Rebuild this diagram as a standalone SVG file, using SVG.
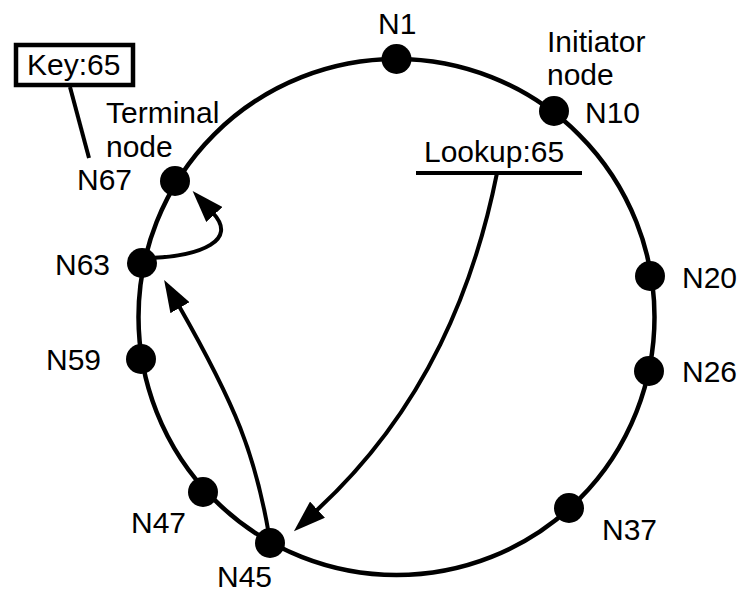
<svg xmlns="http://www.w3.org/2000/svg" width="739" height="596" viewBox="0 0 739 596">
  <style>
    .lbl { font-family: "Liberation Sans", Arial, sans-serif; font-size: 30px; fill: #000; }
    .ring { fill: none; stroke: #000; stroke-width: 4.5; }
    .node { fill: #000; }
    .link { fill: none; stroke: #000; stroke-width: 4; }
  </style>
  <defs>
    <marker id="arrow" markerUnits="userSpaceOnUse" markerWidth="32" markerHeight="22" refX="2" refY="11" orient="auto">
      <path d="M0,0 L32,11 L0,22 z" fill="#000"/>
    </marker>
  </defs>

  <rect width="739" height="596" fill="#fff"/>

  <!-- identifier ring -->
  <circle class="ring" cx="396.5" cy="317" r="258"/>

  <!-- key annotation -->
  <g id="key">
    <rect x="16" y="45" width="117" height="40" fill="#fff" stroke="#000" stroke-width="4.5"/>
    <text class="lbl" x="27" y="75">Key:65</text>
    <line x1="70" y1="87" x2="89" y2="158" stroke="#000" stroke-width="4"/>
  </g>

  <!-- lookup annotation -->
  <g id="lookup">
    <text class="lbl" x="424" y="162">Lookup:65</text>
    <line x1="416" y1="173" x2="582" y2="173" stroke="#000" stroke-width="4"/>
  </g>

  <!-- routing hops -->
  <g id="connectors">
    <path class="link" d="M497,173 C475,283 428,408 316,511" marker-end="url(#arrow)"/>
    <path class="link" d="M269,535 C255.4,455 236,406 179,306" marker-end="url(#arrow)"/>
    <path class="link" d="M150,258 C202,256 238,240 213,213" marker-end="url(#arrow)"/>
  </g>

  <!-- nodes -->
  <g id="n1"><circle class="node" cx="396.5" cy="59" r="15"/><text class="lbl" x="378" y="34">N1</text></g>
  <g id="n10">
    <circle class="node" cx="554" cy="111" r="15"/>
    <text class="lbl" x="547" y="52">Initiator</text>
    <text class="lbl" x="547" y="85">node</text>
    <text class="lbl" x="585" y="123">N10</text>
  </g>
  <g id="n20"><circle class="node" cx="650" cy="276" r="15"/><text class="lbl" x="682" y="288">N20</text></g>
  <g id="n26"><circle class="node" cx="649" cy="371" r="15"/><text class="lbl" x="682" y="382">N26</text></g>
  <g id="n37"><circle class="node" cx="569" cy="508" r="15"/><text class="lbl" x="602" y="540">N37</text></g>
  <g id="n45"><circle class="node" cx="270" cy="543" r="15"/><text class="lbl" x="217" y="587">N45</text></g>
  <g id="n47"><circle class="node" cx="203" cy="492" r="15"/><text class="lbl" x="131" y="533">N47</text></g>
  <g id="n59"><circle class="node" cx="141" cy="359" r="15"/><text class="lbl" x="46" y="370">N59</text></g>
  <g id="n63"><circle class="node" cx="142" cy="263" r="15"/><text class="lbl" x="55" y="275">N63</text></g>
  <g id="n67">
    <circle class="node" cx="175" cy="181" r="15"/>
    <text class="lbl" x="106" y="123">Terminal</text>
    <text class="lbl" x="106" y="157">node</text>
    <text class="lbl" x="77" y="190">N67</text>
  </g>
</svg>
